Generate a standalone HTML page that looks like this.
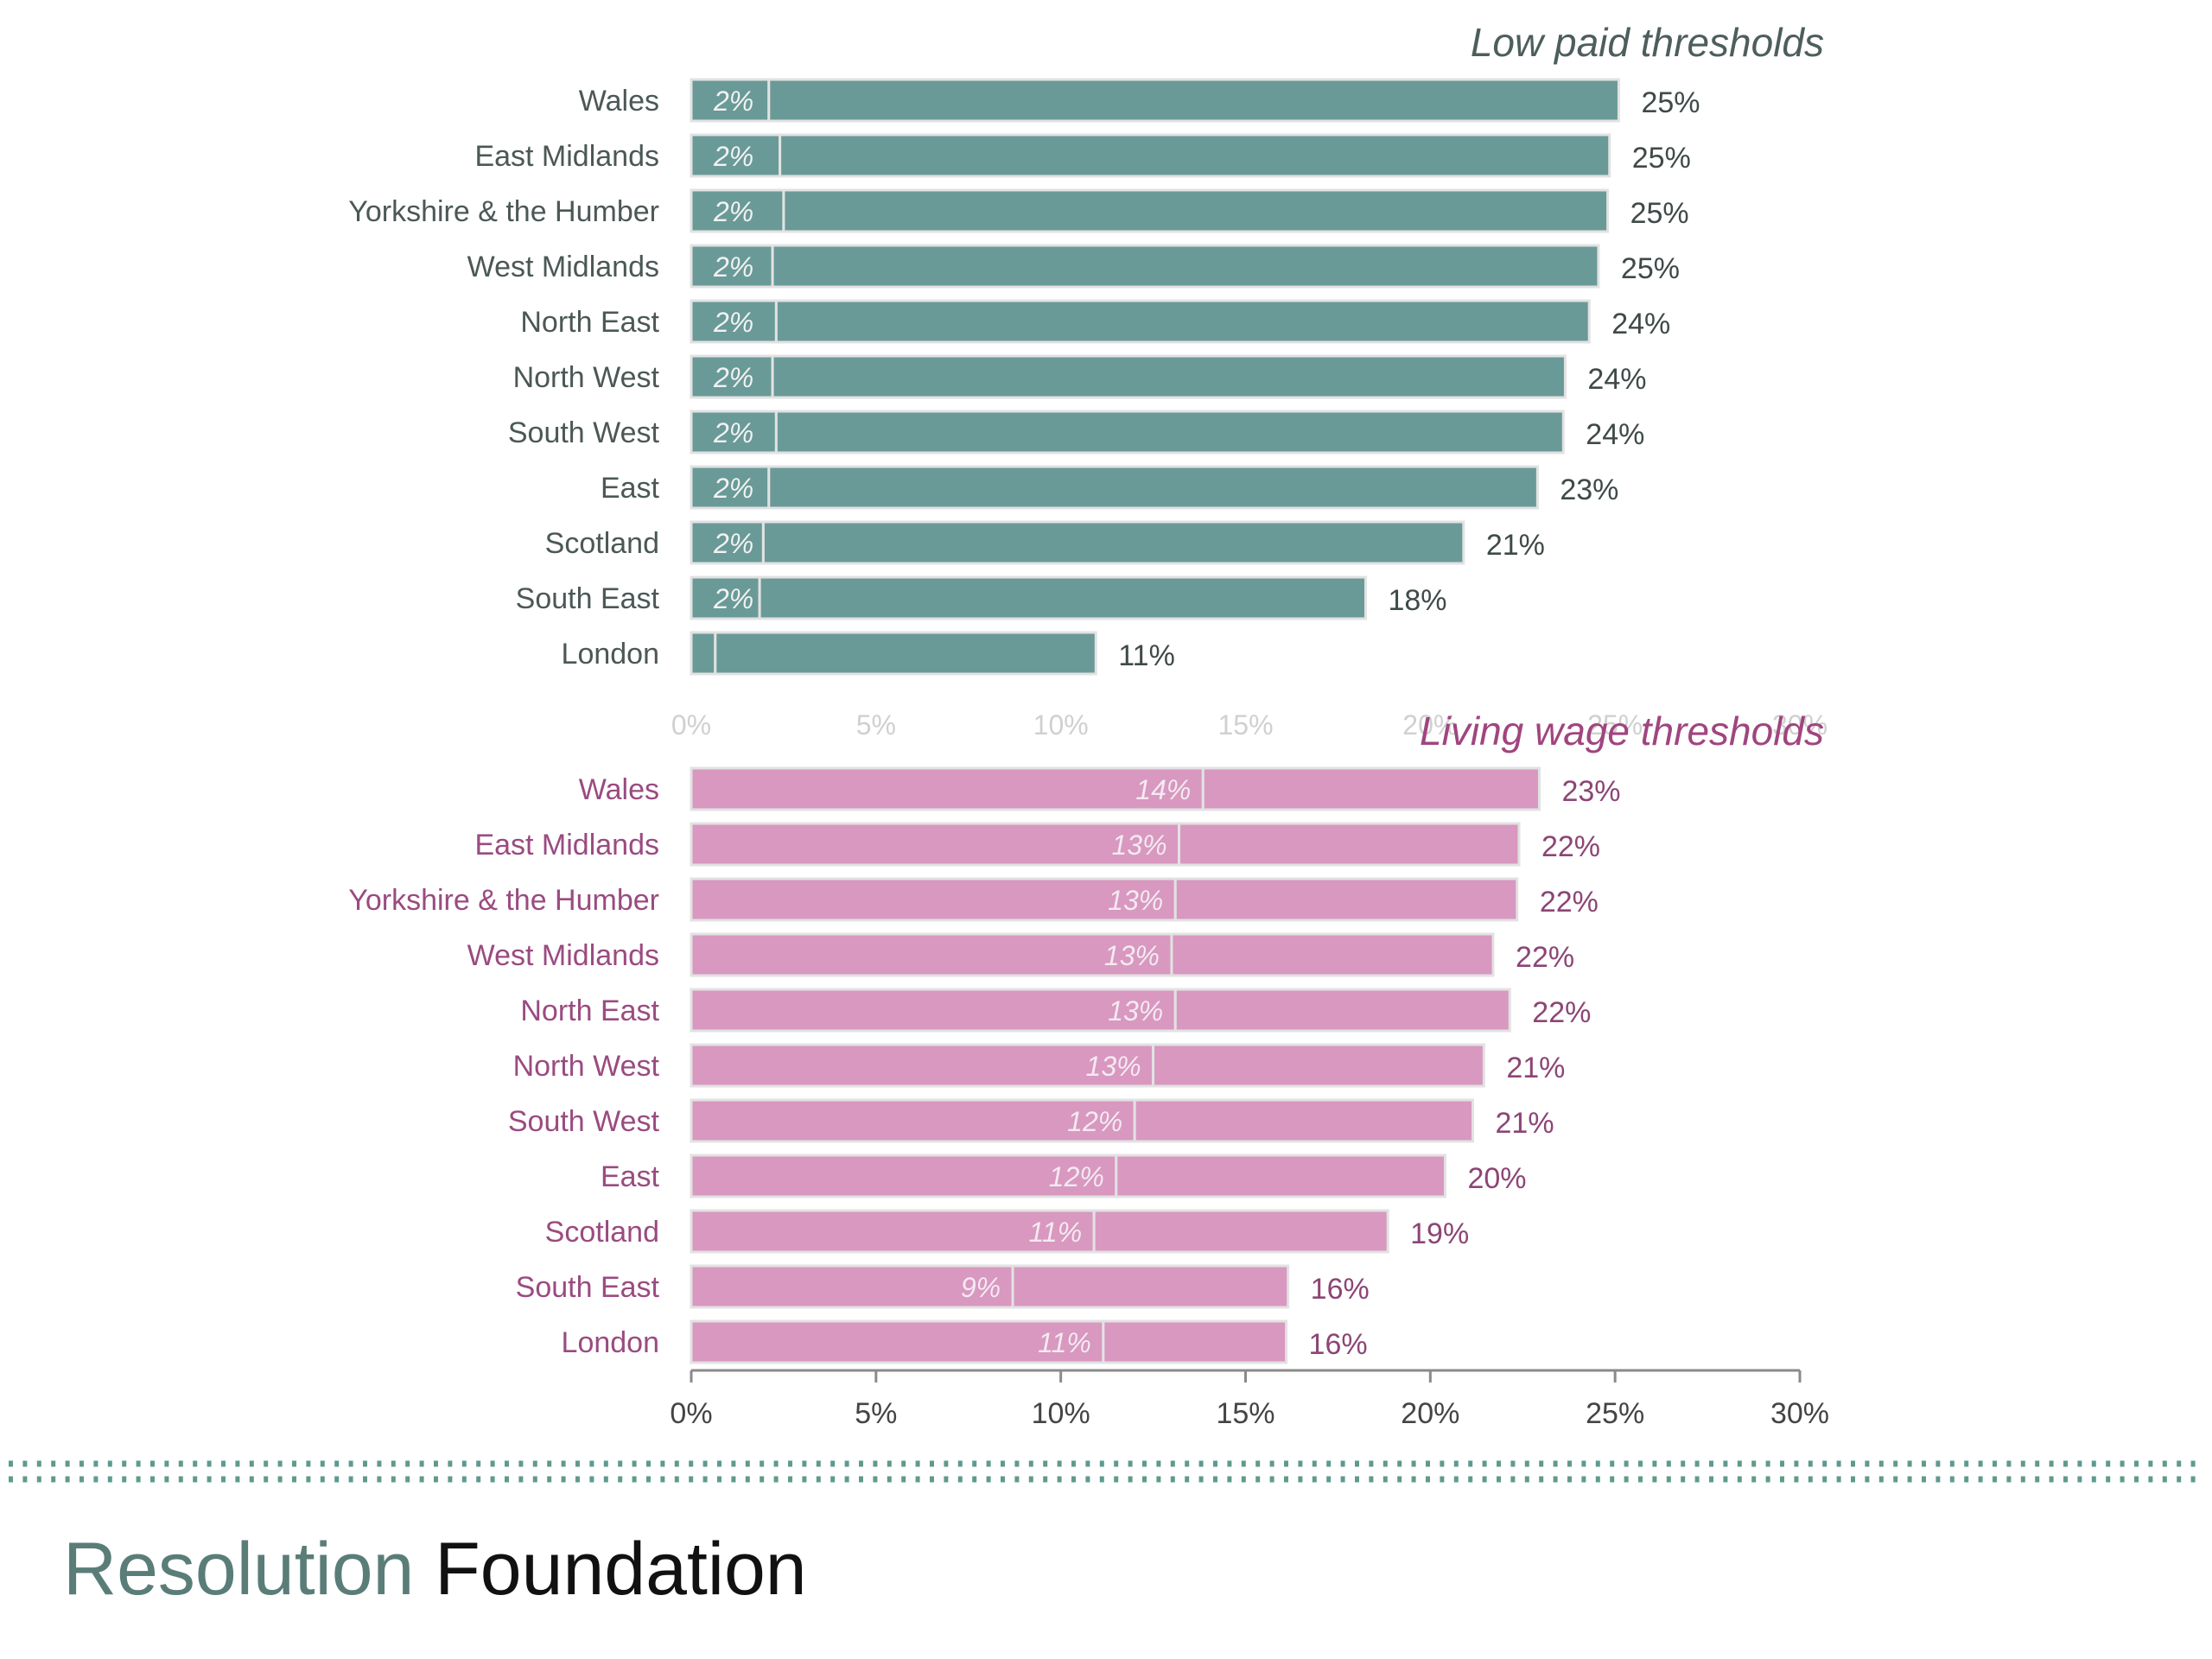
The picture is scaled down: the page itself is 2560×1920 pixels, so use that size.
<!DOCTYPE html>
<html><head><meta charset="utf-8">
<style>
html,body{margin:0;padding:0;background:#fff;}
svg{display:block;font-family:"Liberation Sans",sans-serif;}
</style></head>
<body>
<svg id="chart" width="2560" height="1920" viewBox="0 0 2560 1920" xmlns="http://www.w3.org/2000/svg">
  <g id="topPanel"></g>
  <g id="bottomPanel"></g>
  <g id="footerPanel"></g>
</svg>
<script>
const categories = ["Wales","East Midlands","Yorkshire & the Humber","West Midlands","North East","North West","South West","East","Scotland","South East","London"];
const lowInner = [2.1,2.4,2.5,2.2,2.3,2.2,2.3,2.1,1.95,1.85,0.65];
const lowTotal = [25.1,24.85,24.8,24.55,24.3,23.65,23.6,22.9,20.9,18.25,10.95];
const lowInnerLabels = ["2%","2%","2%","2%","2%","2%","2%","2%","2%","2%",""];
const lowTotalLabels = ["25%","25%","25%","25%","24%","24%","24%","23%","21%","18%","11%"];
const lwInner = [13.85,13.2,13.1,13.0,13.1,12.5,12.0,11.5,10.9,8.7,11.15];
const lwTotal = [22.95,22.4,22.35,21.7,22.15,21.45,21.15,20.4,18.85,16.15,16.1];
const lwInnerLabels = ["14%","13%","13%","13%","13%","13%","12%","12%","11%","9%","11%"];
const lwTotalLabels = ["23%","22%","22%","22%","22%","21%","21%","20%","19%","16%","16%"];
const ticks = [0,5,10,15,20,25,30];
const tickLabels = ["0%","5%","10%","15%","20%","25%","30%"];

const NS = "http://www.w3.org/2000/svg";
const X0 = 800, PX = (2083-800)/30;
const xs = v => X0 + v*PX;
function el(tag, attrs, parent, text){
  const e = document.createElementNS(NS, tag);
  for (const k in attrs) e.setAttribute(k, attrs[k]);
  if (text !== undefined) e.textContent = text;
  parent.appendChild(e);
  return e;
}
function panel(g, y0, inner, total, innerLabels, totalLabels, fill, catColor, valColor, innerLeft){
  const pitch = 64, bh = 48;
  categories.forEach((c,i)=>{
    const cy = y0 + i*pitch;
    const t = el("text",{x:763,y:cy+12,"text-anchor":"end","font-size":34,fill:catColor},g,c);
    
    
    const r1 = el("rect",{x:xs(0),y:cy-bh/2,width:xs(inner[i])-xs(0),height:bh,fill:fill,stroke:"#e2e2e2","stroke-width":3},g);
    
    
    const r2 = el("rect",{x:xs(inner[i]),y:cy-bh/2,width:xs(total[i])-xs(inner[i]),height:bh,fill:fill,stroke:"#e2e2e2","stroke-width":3},g);
    
    
    if (innerLabels[i]) {
      const il = innerLeft
        ? el("text",{x:xs(0)+26,y:cy+12,"font-size":32,"font-style":"italic",fill:"#f2f2f2"},g,innerLabels[i])
        : el("text",{x:xs(inner[i])-14,y:cy+12,"text-anchor":"end","font-size":32,"font-style":"italic",fill:"#f4eaf1"},g,innerLabels[i]);
      
      
    }
    const vl = el("text",{x:xs(total[i])+26,y:cy+14,"font-size":34,fill:valColor},g,totalLabels[i]);
    
    
  });
}
const topG = document.getElementById("topPanel");
const bottomG = document.getElementById("bottomPanel");
panel(topG,116,lowInner,lowTotal,lowInnerLabels,lowTotalLabels,"#699a98","#4b5856","#3f4a49",true);
panel(bottomG,913,lwInner,lwTotal,lwInnerLabels,lwTotalLabels,"#d898c0","#9a4b80","#8c4575",false);

ticks.forEach((v,i)=>{
  const t = el("text",{x:xs(v),y:850,"text-anchor":"middle","font-size":32,fill:"#d0d0d0"},topG,tickLabels[i]);
  
  
});
const t1 = el("text",{x:2111,y:65,"text-anchor":"end","font-size":46,"font-style":"italic",fill:"#4d5e5c"},topG,"Low paid thresholds");


const t2 = el("text",{x:2111,y:862,"text-anchor":"end","font-size":46,"font-style":"italic",fill:"#a0457f"},bottomG,"Living wage thresholds");



const ax = el("line",{x1:xs(0),x2:xs(30),y1:1586,y2:1586,stroke:"#8a8a8a","stroke-width":3},bottomG);


ticks.forEach((v,i)=>{
  const tk = el("line",{x1:xs(v),x2:xs(v),y1:1586,y2:1600,stroke:"#8a8a8a","stroke-width":3},bottomG);
  
  
  const tl = el("text",{x:xs(v),y:1647,"text-anchor":"middle","font-size":34,fill:"#444"},bottomG,tickLabels[i]);
  
  
});

const footerG = document.getElementById("footerPanel");
[1694,1712].forEach(y=>{
  const dl = el("line",{x1:10,x2:2545,y1:y,y2:y,stroke:"#5f9a8e","stroke-width":7,"stroke-dasharray":"5 11.4"},footerG);
  
  
});
const logo = el("text",{x:73,y:1845,"font-size":86,fill:"#5a7d78"},footerG);


el("tspan",{},logo,"Resolution ");
el("tspan",{fill:"#111"},logo,"Foundation");
</script>
</body></html>
